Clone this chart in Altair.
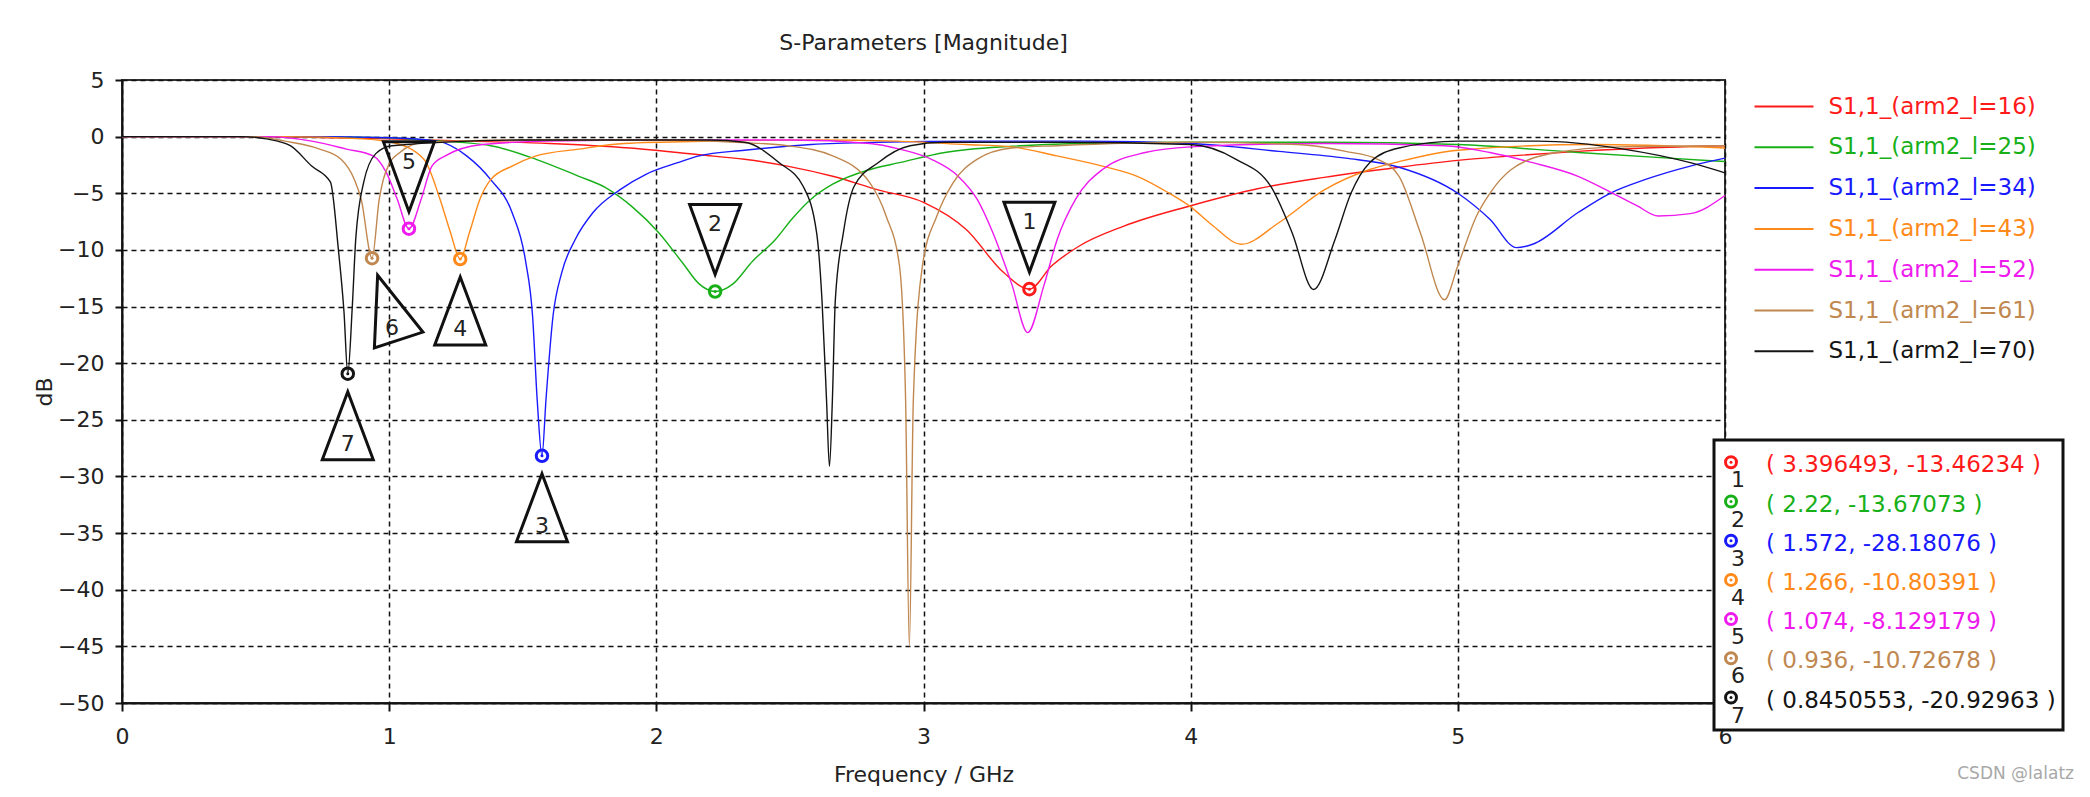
import altair as alt
import pandas as pd

FONT = "DejaVu Sans"
TXT = "#222222"

# ---------------- data ----------------
series_names = [
    "S1,1_(arm2_l=16)", "S1,1_(arm2_l=25)", "S1,1_(arm2_l=34)", "S1,1_(arm2_l=43)",
    "S1,1_(arm2_l=52)", "S1,1_(arm2_l=61)", "S1,1_(arm2_l=70)",
]
series_colors = ["#FF1A1A", "#18B018", "#1A1AFF", "#FF8A1A", "#EE1AEE", "#C08850", "#141414"]

f16 = [0.0, 0.5, 0.8, 1.0, 1.3, 1.6, 1.9, 2.16, 2.33, 2.49, 2.66, 2.83, 3.0, 3.16, 3.3, 3.396493,
       3.48, 3.58, 3.75, 4.0, 4.25, 4.5, 4.78, 5.0, 5.2, 5.45, 5.7, 6.0]
d16 = [0.0, 0.0, -0.1, -0.2, -0.4, -0.6, -1.0, -1.6, -2.0, -2.6, -3.5, -4.7, -5.8, -8.2, -12.0, -13.46234,
       -11.4, -9.7, -7.9, -6.1, -4.6, -3.6, -2.7, -2.1, -1.7, -1.3, -1.0, -0.8]

f25 = [0.0, 0.6, 1.0, 1.13, 1.38, 1.55, 1.71, 1.81, 1.91, 2.01, 2.10, 2.16, 2.22, 2.287, 2.36, 2.445,
       2.51, 2.58, 2.66, 2.80, 2.91, 3.08, 3.33, 3.58, 4.0, 4.5, 5.0, 5.45, 5.79, 6.0]
d25 = [0.0, 0.0, -0.1, -0.3, -0.8, -2.0, -3.5, -4.5, -6.2, -8.5, -11.2, -13.0, -13.67073, -13.0, -11.0, -9.1,
       -7.2, -5.5, -4.2, -2.9, -2.3, -1.4, -0.85, -0.6, -0.5, -0.5, -0.7, -1.4, -1.9, -2.2]

f34 = [0.0, 0.7, 1.0, 1.18, 1.29, 1.38, 1.46, 1.51, 1.537, 1.554, 1.572, 1.587, 1.613, 1.646, 1.696,
       1.763, 1.863, 1.963, 2.08, 2.16, 2.33, 2.58, 2.83, 3.2, 3.6, 4.0, 4.33, 4.58, 4.78, 5.0, 5.12,
       5.22, 5.28, 5.45, 5.57, 5.7, 5.87, 6.0]
d34 = [0.0, 0.0, -0.1, -0.4, -1.7, -3.8, -6.7, -10.9, -15.9, -23.2, -28.18076, -23.2, -15.9, -12.0, -9.1,
       -6.7, -4.7, -3.3, -2.3, -1.7, -1.2, -0.7, -0.5, -0.4, -0.4, -0.6, -1.3, -1.9, -2.7, -5.0, -7.3,
       -9.8, -9.5, -6.7, -5.0, -3.8, -2.6, -1.9]

f43 = [0.0, 0.6, 0.9, 1.01, 1.13, 1.19, 1.23, 1.266, 1.30, 1.34, 1.38, 1.46, 1.55, 1.71, 1.88, 2.2,
       2.6, 2.9, 3.16, 3.33, 3.5, 3.67, 3.80, 3.92, 4.0, 4.08, 4.19, 4.33, 4.5, 4.67, 4.78, 5.0, 5.5, 6.0]
d43 = [0.0, 0.0, -0.2, -0.5, -2.0, -5.5, -8.5, -10.80391, -8.5, -5.5, -3.8, -2.6, -1.7, -1.1, -0.6, -0.4,
       -0.3, -0.4, -0.7, -0.9, -1.7, -2.6, -3.5, -5.0, -6.2, -7.8, -9.5, -7.6, -4.7, -2.9, -2.2, -1.2, -0.7, -1.0]

f52 = [0.0, 0.55, 0.71, 0.84, 0.94, 0.99, 1.03, 1.074, 1.12, 1.16, 1.21, 1.35, 1.6, 2.0, 2.5, 2.8,
       2.91, 3.03, 3.13, 3.2, 3.26, 3.33, 3.39, 3.45, 3.5, 3.57, 3.67, 3.83, 4.0, 4.5, 4.95, 5.12, 5.28,
       5.45, 5.58, 5.67, 5.75, 5.87, 6.0]
d52 = [0.0, 0.0, -0.4, -1.1, -1.7, -3.2, -5.5, -8.129179, -5.5, -2.6, -1.7, -0.7, -0.4, -0.3, -0.3, -0.6,
       -1.1, -2.0, -3.5, -5.5, -8.5, -13.0, -17.3, -13.2, -9.1, -5.5, -2.9, -1.4, -0.9, -0.6, -0.8, -1.4, -2.3,
       -3.5, -5.0, -6.1, -7.0, -6.8, -5.2]

f61 = [0.0, 0.5, 0.61, 0.74, 0.82, 0.87, 0.895, 0.936, 0.963, 0.978, 1.0, 1.04, 1.13, 1.5, 2.0, 2.3,
       2.49, 2.66, 2.80, 2.86, 2.91, 2.933, 2.947, 2.962, 2.996, 3.05, 3.11, 3.20, 3.33, 3.5, 4.0, 4.4,
       4.58, 4.7, 4.78, 4.86, 4.95, 5.0, 5.07, 5.12, 5.2, 5.37, 5.6, 6.0]
d61 = [0.0, 0.0, -0.4, -1.1, -2.0, -3.8, -5.5, -10.72678, -5.5, -3.8, -2.4, -1.4, -0.5, -0.3, -0.3, -0.5,
       -0.8, -1.7, -4.1, -7.0, -11.4, -23.2, -45.0, -23.2, -11.4, -7.0, -4.1, -2.0, -1.0, -0.8, -0.5, -0.7,
       -1.3, -2.0, -3.5, -8.5, -14.4, -11.4, -7.0, -5.0, -2.9, -1.4, -0.9, -0.8]

f70 = [0.0, 0.45, 0.54, 0.63, 0.71, 0.78, 0.81, 0.831, 0.8450553, 0.862, 0.875, 0.905, 0.95, 1.01, 1.5,
       2.0, 2.2, 2.33, 2.46, 2.55, 2.60, 2.62, 2.637, 2.648, 2.659, 2.67, 2.70, 2.74, 2.83, 2.95, 3.08,
       3.5, 4.0, 4.17, 4.3, 4.38, 4.46, 4.54, 4.6, 4.67, 4.78, 5.0, 5.3, 5.62, 5.87, 6.0]
d70 = [0.0, 0.0, -0.2, -0.8, -2.6, -4.0, -10.0, -15.5, -20.92963, -15.0, -9.0, -4.0, -1.5, -0.8, -0.3,
       -0.3, -0.3, -0.5, -2.3, -4.4, -8.5, -14.4, -23.2, -29.1, -23.2, -14.4, -8.5, -4.4, -2.3, -0.8, -0.5,
       -0.5, -0.7, -2.0, -4.4, -8.5, -13.5, -9.1, -5.0, -2.3, -1.0, -0.4, -0.4, -1.1, -2.3, -3.2]

series_freqs = [f16, f25, f34, f43, f52, f61, f70]
series_dbs = [d16, d25, d34, d43, d52, d61, d70]

marker_ids = [1, 2, 3, 4, 5, 6, 7]
marker_freq = [3.396493, 2.22, 1.572, 1.266, 1.074, 0.936, 0.8450553]
marker_db = [-13.46234, -13.67073, -28.18076, -10.80391, -8.129179, -10.72678, -20.92963]
marker_series = [0, 1, 2, 3, 4, 5, 6]

x_ticks = [0, 1, 2, 3, 4, 5, 6]
y_ticks = [-50, -45, -40, -35, -30, -25, -20, -15, -10, -5, 0, 5]

title_text = "S-Parameters [Magnitude]"
x_title = "Frequency / GHz"
y_title = "dB"
watermark = "CSDN @lalatz"

# ---------------- tables ----------------
rows = []
for i, name in enumerate(series_names):
    for f, d in zip(series_freqs[i], series_dbs[i]):
        rows.append({"series": name, "k": i, "freq": f, "db": d})
lines_df = pd.DataFrame(rows)

mk = pd.DataFrame({
    "id": [str(m) for m in marker_ids],
    "freq": marker_freq,
    "db": marker_db,
    "series": [series_names[s] for s in marker_series],
    "row": list(range(len(marker_ids))),
    "label": [f"( {f}, {d} )" for f, d in zip(marker_freq, marker_db)],
})

# ---------------- encodings ----------------
W, H = 1603, 623
x_scale = alt.Scale(domain=[x_ticks[0], x_ticks[-1]], nice=False, zero=False)
y_scale = alt.Scale(domain=[y_ticks[0], y_ticks[-1]], nice=False, zero=False)

axis_common = dict(
    grid=True, gridDash=[5, 4], gridColor="#111111", gridWidth=1.5, gridOpacity=1,
    domainColor="#111111", domainWidth=2, tickColor="#111111", tickWidth=2,
    labelFont=FONT, labelFontSize=22, labelColor=TXT, labelFlush=False, labelOverlap=False,
    titleFont=FONT, titleFontSize=22, titleFontWeight="normal", titleColor=TXT,
)
x_enc = alt.X("freq:Q", scale=x_scale, axis=alt.Axis(
    values=x_ticks, format="d", tickSize=8, labelPadding=15, title=x_title,
    titleY=61, titleBaseline="top", **axis_common))
y_enc = alt.Y("db:Q", scale=y_scale, axis=alt.Axis(
    values=y_ticks, format="d", tickSize=7, labelPadding=11, title=y_title,
    titleX=-78, titleY=H / 2, titleAngle=270, titleBaseline="middle", titleAlign="center",
    **axis_common))

legend = alt.Legend(
    orient="none", legendX=1632, legendY=15, title=None, padding=0,
    symbolType="M-2.95,0H2.95", symbolSize=400, symbolStrokeWidth=2, symbolOffset=18.5,
    labelOffset=33, labelFont=FONT, labelFontSize=23, labelLimit=400, rowPadding=16.8,
    labelColor={"expr": "scale('color', datum.value)"},
)
color_enc = alt.Color("series:N", scale=alt.Scale(domain=series_names, range=series_colors), legend=legend)

# ---------------- main plot layers ----------------
lines = alt.Chart(lines_df).mark_line(strokeWidth=1.4, interpolate="monotone").encode(
    x=x_enc, y=y_enc, color=color_enc)

rings = alt.Chart(mk).mark_point(shape="circle", size=133, filled=False, strokeWidth=3, opacity=1).encode(
    x=x_enc, y=y_enc, color=color_enc)
dots = alt.Chart(mk).mark_point(shape="circle", size=9, filled=True, opacity=1).encode(
    x=x_enc, y=y_enc, color=color_enc)

UP = "M0,1.8L2.55,8.6L-2.55,8.6Z"
DOWN = "M0,-1.7L2.55,-8.7L-2.55,-8.7Z"
down_ids = ["1", "2", "5"]
up_ids = ["3", "4", "7"]
rot_ids = ["6"]

def tri(ids, shape, angle=0):
    return alt.Chart(mk).transform_filter(
        alt.FieldOneOfPredicate(field="id", oneOf=ids)
    ).mark_point(shape=shape, size=400, filled=False, color="#111111", strokeWidth=3,
                 opacity=1, angle=angle).encode(x=x_enc, y=y_enc)

def tri_num(ids, dx, dy):
    return alt.Chart(mk).transform_filter(
        alt.FieldOneOfPredicate(field="id", oneOf=ids)
    ).mark_text(font=FONT, fontSize=22, color=TXT, dx=dx, dy=dy, baseline="middle").encode(
        x=x_enc, y=y_enc, text="id:N")

main = alt.layer(
    lines, rings, dots,
    tri(down_ids, DOWN), tri(up_ids, UP), tri(rot_ids, UP, 342),
    tri_num(down_ids, 0, -67), tri_num(up_ids, 0, 70), tri_num(rot_ids, 20, 70),
)

# ---------------- marker read-out box ----------------
row_y = alt.Y("row:Q", scale=alt.Scale(domain=[0, 6], range=[382.3, 617.5]), axis=None)

box_rect = alt.Chart(alt.Data(values=[{"k": 0}])).mark_rect(
    fill="white", stroke="#111111", strokeWidth=3).encode(
    x=alt.value(1592), x2=alt.value(1941), y=alt.value(360), y2=alt.value(650))
box_rings = alt.Chart(mk).mark_point(shape="circle", size=120, filled=False, strokeWidth=3, opacity=1).encode(
    x=alt.value(1609), y=row_y, color=color_enc)
box_dots = alt.Chart(mk).mark_point(shape="circle", size=9, filled=True, opacity=1).encode(
    x=alt.value(1609), y=row_y, color=color_enc)
box_nums = alt.Chart(mk).mark_text(font=FONT, fontSize=22, color=TXT, dy=18, baseline="middle").encode(
    x=alt.value(1616), y=row_y, text="id:N")
box_text = alt.Chart(mk).mark_text(font=FONT, fontSize=23, align="left", dy=3, baseline="middle").encode(
    x=alt.value(1644), y=row_y, text="label:N", color=color_enc)
wm = alt.Chart(alt.Data(values=[{"t": watermark}])).mark_text(
    font=FONT, fontSize=17, color="#A8A8A8", align="right", baseline="middle").encode(
    x=alt.value(1952), y=alt.value(694), text="t:N")

box = alt.layer(box_rect, box_rings, box_dots, box_nums, box_text, wm)

chart = alt.layer(main, box).resolve_scale(y="independent").properties(
    width=W, height=H,
    autosize="none",
    padding={"left": 114, "top": 72, "right": 350, "bottom": 85},
    title=alt.TitleParams(title_text, font=FONT, fontSize=22, fontWeight="normal", color=TXT,
                          anchor="middle", offset=14),
    background="white",
).configure_view(stroke="#333333", strokeWidth=2)

chart.save("out.html", embed_options={"renderer": "svg", "actions": False})
